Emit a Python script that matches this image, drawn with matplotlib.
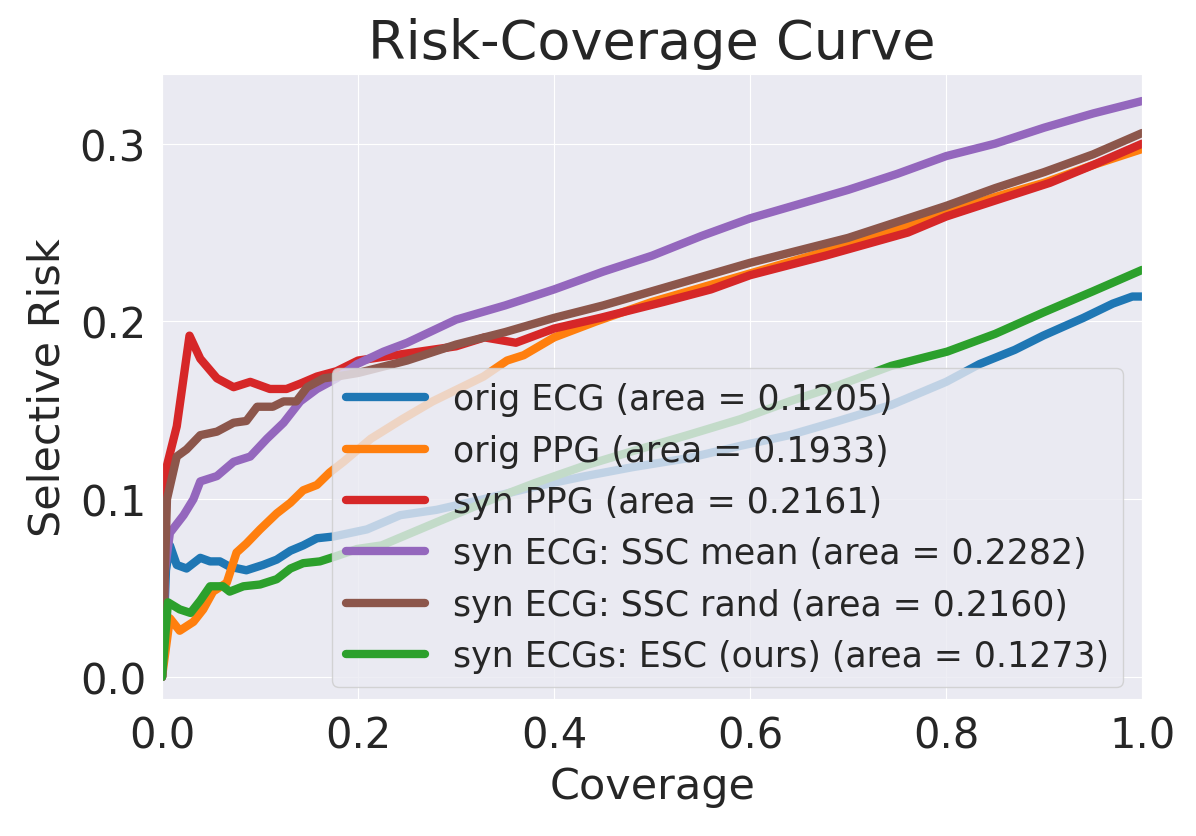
import numpy as np
import matplotlib
matplotlib.use("Agg")
import matplotlib.pyplot as plt
import seaborn as sns

# -----------------------------
# Data
# -----------------------------
labels = [
    "orig ECG (area = 0.1205)",
    "orig PPG (area = 0.1933)",
    "syn PPG (area = 0.2161)",
    "syn ECG: SSC mean (area = 0.2282)",
    "syn ECG: SSC rand (area = 0.2160)",
    "syn ECGs: ESC (ours) (area = 0.1273)",
]

orig_ecg_x = [0, 0.004, 0.008, 0.015, 0.025, 0.039, 0.049, 0.059, 0.069, 0.086, 0.103, 0.117,
              0.131, 0.144, 0.158, 0.175, 0.192, 0.209, 0.243, 0.28, 0.328, 0.38, 0.432, 0.48,
              0.536, 0.59, 0.64, 0.69, 0.744, 0.80, 0.834, 0.87, 0.899, 0.94, 0.97, 0.99, 1.0]
orig_ecg_y = [0, 0.06, 0.074, 0.063, 0.061, 0.067, 0.065, 0.065, 0.062, 0.060, 0.063, 0.066,
              0.071, 0.074, 0.078, 0.079, 0.081, 0.083, 0.091, 0.094, 0.100, 0.107, 0.113, 0.118,
              0.123, 0.130, 0.136, 0.144, 0.153, 0.166, 0.176, 0.184, 0.192, 0.202, 0.210, 0.214, 0.214]

orig_ppg_x = [0, 0.008, 0.018, 0.032, 0.042, 0.052, 0.066, 0.076, 0.086, 0.100, 0.117, 0.131,
              0.144, 0.158, 0.171, 0.185, 0.213, 0.245, 0.276, 0.328, 0.352, 0.369, 0.40, 0.443,
              0.5, 0.55, 0.6, 0.65, 0.7, 0.75, 0.8, 0.85, 0.9, 0.95, 1.0]
orig_ppg_y = [0, 0.033, 0.026, 0.031, 0.038, 0.048, 0.053, 0.070, 0.075, 0.083, 0.092, 0.098,
              0.105, 0.108, 0.115, 0.121, 0.134, 0.145, 0.155, 0.169, 0.178, 0.181, 0.191, 0.200,
              0.211, 0.219, 0.227, 0.235, 0.243, 0.252, 0.261, 0.270, 0.278, 0.288, 0.297]

syn_ppg_x = [0, 0.005, 0.015, 0.028, 0.039, 0.056, 0.073, 0.090, 0.110, 0.127, 0.141, 0.158,
             0.178, 0.2, 0.25, 0.3, 0.329, 0.361, 0.4, 0.447, 0.512, 0.56, 0.6, 0.677, 0.761,
             0.8, 0.85, 0.906, 0.95, 1.0]
syn_ppg_y = [0, 0.119, 0.141, 0.192, 0.179, 0.168, 0.163, 0.166, 0.162, 0.162, 0.165, 0.169,
             0.172, 0.178, 0.182, 0.186, 0.191, 0.188, 0.196, 0.202, 0.211, 0.218, 0.226, 0.237,
             0.250, 0.259, 0.268, 0.278, 0.288, 0.300]

ssc_mean_x = [0, 0.003, 0.008, 0.022, 0.032, 0.039, 0.056, 0.073, 0.090, 0.107, 0.124, 0.141,
              0.158, 0.178, 0.199, 0.226, 0.25, 0.3, 0.35, 0.4, 0.45, 0.5, 0.55, 0.6, 0.65, 0.7,
              0.75, 0.8, 0.85, 0.9, 0.95, 1.0]
ssc_mean_y = [0, 0.06, 0.081, 0.091, 0.100, 0.110, 0.113, 0.121, 0.124, 0.134, 0.143, 0.155,
              0.162, 0.168, 0.176, 0.183, 0.188, 0.201, 0.209, 0.218, 0.228, 0.237, 0.248, 0.258,
              0.266, 0.274, 0.283, 0.293, 0.300, 0.309, 0.317, 0.324]

ssc_rand_x = [0, 0.005, 0.015, 0.025, 0.039, 0.056, 0.073, 0.086, 0.097, 0.113, 0.124, 0.137,
              0.148, 0.165, 0.178, 0.2, 0.25, 0.3, 0.35, 0.4, 0.45, 0.5, 0.55, 0.6, 0.65, 0.7,
              0.75, 0.8, 0.85, 0.9, 0.95, 1.0]
ssc_rand_y = [0, 0.10, 0.124, 0.128, 0.136, 0.138, 0.143, 0.144, 0.152, 0.152, 0.155, 0.155,
              0.163, 0.168, 0.169, 0.171, 0.178, 0.187, 0.194, 0.202, 0.209, 0.217, 0.225, 0.233,
              0.240, 0.247, 0.256, 0.265, 0.275, 0.284, 0.294, 0.306]

esc_x = [0, 0.006, 0.018, 0.029, 0.039, 0.049, 0.062, 0.069, 0.083, 0.100, 0.117, 0.131, 0.144,
         0.161, 0.178, 0.199, 0.224, 0.28, 0.328, 0.38, 0.432, 0.48, 0.536, 0.59, 0.640, 0.69,
         0.744, 0.801, 0.85, 0.899, 0.95, 1.0]
esc_y = [0, 0.042, 0.038, 0.036, 0.043, 0.051, 0.051, 0.048, 0.051, 0.052, 0.055, 0.061, 0.064,
         0.065, 0.068, 0.072, 0.074, 0.087, 0.098, 0.109, 0.119, 0.127, 0.136, 0.145, 0.155, 0.164,
         0.175, 0.183, 0.193, 0.205, 0.217, 0.229]

series_x = [orig_ecg_x, orig_ppg_x, syn_ppg_x, ssc_mean_x, ssc_rand_x, esc_x]
series_y = [orig_ecg_y, orig_ppg_y, syn_ppg_y, ssc_mean_y, ssc_rand_y, esc_y]
colors = ["#1f77b4", "#ff7f0e", "#d62728", "#9467bd", "#8c564b", "#2ca02c"]

# -----------------------------
# Plot
# -----------------------------
sns.set_style("darkgrid")
plt.rcParams["font.family"] = ["DejaVu Sans"]

fig = plt.figure(figsize=(11.96, 8.37), dpi=100)
ax = fig.add_axes([0.1355, 0.1637, 0.8195, 0.7463])

for xs, ys, c, lab in zip(series_x, series_y, colors, labels):
    ax.plot(np.array(xs), np.array(ys), color=c, lw=6, label=lab)

ax.set_xlim(0, 1.0)
ax.set_ylim(-0.0124, 0.339)
ax.set_xticks([0.0, 0.2, 0.4, 0.6, 0.8, 1.0])
ax.set_yticks([0.0, 0.1, 0.2, 0.3])
ax.tick_params(labelsize=30, colors="#262626", pad=8)
ax.set_xlabel("Coverage", fontsize=31, color="#262626", labelpad=6)
ax.set_ylabel("Selective Risk", fontsize=31, color="#262626", labelpad=8)
ax.set_title("Risk-Coverage Curve", fontsize=39, color="#262626", pad=12)

ax.legend(loc="lower right", bbox_to_anchor=(0.9806, 0.0192), borderaxespad=0,
          fontsize=25, handlelength=2.3)

fig.savefig("out.png", dpi=100)
plt.close(fig)
